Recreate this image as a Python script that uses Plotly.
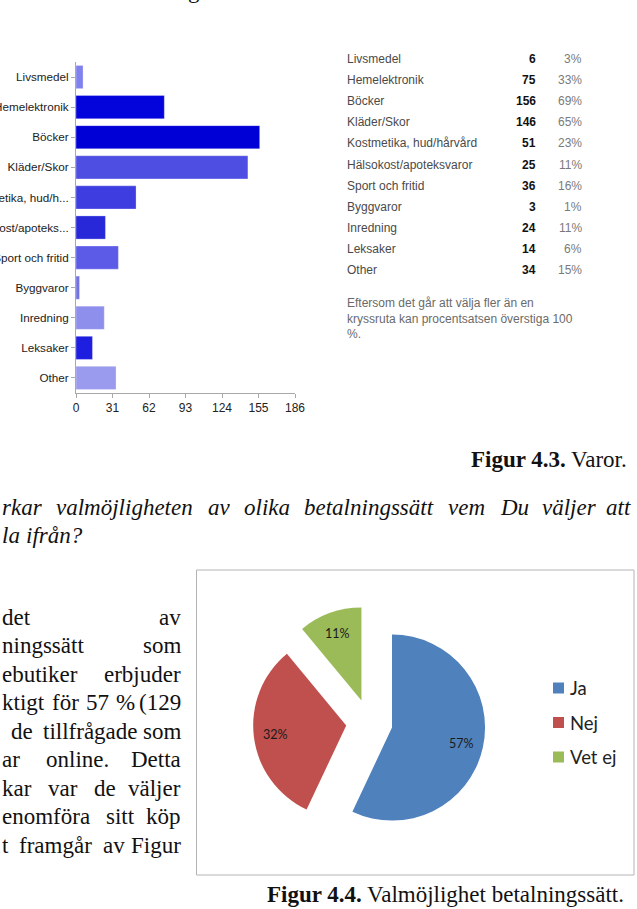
import math
import plotly.graph_objects as go

W, H = 637, 909

# ---------------- data ----------------
bar_labels = ["Livsmedel", "Hemelektronik", "Böcker", "Kläder/Skor", "Kostmetika, hud/h...",
              "Hälsokost/apoteks...", "Sport och fritid", "Byggvaror", "Inredning", "Leksaker", "Other"]
table_labels = ["Livsmedel", "Hemelektronik", "Böcker", "Kläder/Skor", "Kostmetika, hud/hårvård",
                "Hälsokost/apoteksvaror", "Sport och fritid", "Byggvaror", "Inredning", "Leksaker", "Other"]
counts = [6, 75, 156, 146, 51, 25, 36, 3, 24, 14, 34]
percents = ["3%", "33%", "69%", "65%", "23%", "11%", "16%", "1%", "11%", "6%", "15%"]
bar_colors = ["#8080ee", "#0303dc", "#0000d6", "#4e4ee2", "#3d3de0", "#2828d8",
              "#5b5be8", "#7272e2", "#8e8eec", "#1e1ee0", "#9a9aee"]
x_ticks = [0, 31, 62, 93, 124, 155, 186]
note_lines = ["Eftersom det går att välja fler än en",
              "kryssruta kan procentsatsen överstiga 100",
              "%."]

pie_labels = ["Ja", "Nej", "Vet ej"]
pie_values = [57, 32, 11]
pie_colors = ["#4f81bd", "#c0504d", "#9bbb59"]

question_lines = ["rkar valmöjligheten av olika betalningssätt vem Du väljer att", "la ifrån?"]
para_lines = ["det av", "ningssätt som", "ebutiker erbjuder", "ktigt för 57 % (129",
              " de tillfrågade som", "ar online. Detta", "kar var de väljer",
              "enomföra sitt köp", "t framgår av Figur"]


def px(x):
    return x / W


def py(y):
    return 1 - y / H


# Times metrics (per 1000 em) for justification
TR = {' ': 250, 'a': 444, 'b': 500, 'c': 444, 'd': 500, 'e': 444, 'f': 333, 'g': 500, 'h': 500,
      'i': 278, 'j': 278, 'k': 500, 'l': 278, 'm': 778, 'n': 500, 'o': 500, 'p': 500, 'r': 333,
      's': 389, 't': 278, 'u': 500, 'v': 500, 'w': 722, 'å': 444, 'ä': 444, 'ö': 500, 'D': 722,
      'F': 556, '%': 833, '(': 333, ')': 333, '.': 250, ',': 250, '?': 444}
TI = {' ': 250, 'a': 500, 'b': 500, 'c': 444, 'd': 500, 'e': 444, 'f': 278, 'g': 500, 'h': 500,
      'i': 278, 'j': 278, 'k': 444, 'l': 278, 'm': 722, 'n': 500, 'o': 500, 'r': 389, 's': 389,
      't': 278, 'u': 500, 'v': 444, 'å': 500, 'ä': 500, 'ö': 500, 'D': 722, '?': 500}


def tw(s, size, table):
    return sum(table.get(c, 500) for c in s) * size / 1000


annotations = []
shapes = []


def justify(line, left, right, y, size, table, family, italic=False, justify_line=True):
    words = line.split()
    lead = line.startswith(" ")
    widths = [tw(w, size, table) for w in words]
    ngaps = len(words) - 1 + (1 if lead else 0)
    if justify_line and ngaps > 0:
        gap = (right - left - sum(widths)) / ngaps
    else:
        gap = tw(" ", size, table)
    x = left + (gap if lead else 0)
    for i, (w, wd) in enumerate(zip(words, widths)):
        txt = f"<i>{w}</i>" if italic else w
        if justify_line and i == len(words) - 1 and len(words) > 1:
            annotations.append(dict(x=px(right), y=py(y), xref="paper", yref="paper", text=txt,
                                    showarrow=False, xanchor="right", yanchor="middle",
                                    font=dict(family=family, size=size, color="#111")))
        else:
            annotations.append(dict(x=px(x), y=py(y), xref="paper", yref="paper", text=txt,
                                    showarrow=False, xanchor="left", yanchor="middle",
                                    font=dict(family=family, size=size, color="#111")))
        x += wd + gap


fig = go.Figure()

# ---------------- bar chart ----------------
fig.add_trace(go.Bar(
    x=counts, y=bar_labels, orientation="h",
    marker=dict(color=bar_colors, line=dict(width=0.6, color="rgba(255,255,255,0.5)")),
    width=0.77, hoverinfo="skip", showlegend=False,
    xaxis="x", yaxis="y",
))

# ---------------- pie chart ----------------
cx, cy, half = 369.3, 722.5, 116.3
pull = 0.25
r = half / (1 + pull)
fig.add_trace(go.Pie(
    labels=pie_labels, values=pie_values,
    marker=dict(colors=pie_colors, line=dict(width=0)),
    pull=[pull] * len(pie_values), sort=False, direction="clockwise", rotation=0,
    textinfo="none",
    domain=dict(x=[px(cx - half), px(cx + half)], y=[py(cy + half), py(cy - half)]),
    showlegend=False, hoverinfo="skip",
))
# data labels placed along each slice's mid-angle (Excel style)
total = sum(pie_values)
cum = 0
for v in pie_values:
    theta = 2 * math.pi * (cum + v / 2) / total
    cum += v
    d = (pull + 0.77) * r
    annotations.append(dict(x=px(cx + d * math.sin(theta)), y=py(cy - d * math.cos(theta)),
                            xref="paper", yref="paper", text=f"{v}%", showarrow=False,
                            xanchor="center", yanchor="middle",
                            font=dict(family="Lato", size=12.5, color="#1a1a1a")))

# ---------------- table text ----------------
tfont = "Liberation Sans"
for i, (name, c, p) in enumerate(zip(table_labels, counts, percents)):
    yy = 59 + i * 21.1
    annotations.append(dict(x=px(345), y=py(yy), xref="paper", yref="paper", text=name,
                            showarrow=False, xanchor="left", yanchor="middle",
                            font=dict(family=tfont, size=12, color="#4a4a4a")))
    annotations.append(dict(x=px(538), y=py(yy), xref="paper", yref="paper", text=f"<b>{c}</b>",
                            showarrow=False, xanchor="right", yanchor="middle",
                            font=dict(family=tfont, size=12, color="#111")))
    annotations.append(dict(x=px(584), y=py(yy), xref="paper", yref="paper", text=p,
                            showarrow=False, xanchor="right", yanchor="middle",
                            font=dict(family=tfont, size=12, color="#7a7a7a")))
for i, ln in enumerate(note_lines):
    annotations.append(dict(x=px(345), y=py(303 + i * 15.5), xref="paper", yref="paper", text=ln,
                            showarrow=False, xanchor="left", yanchor="middle",
                            font=dict(family=tfont, size=12, color="#6a6a6a")))

# ---------------- captions & body text ----------------
serif = "Liberation Serif"
annotations.append(dict(x=px(629), y=py(459), xref="paper", yref="paper",
                        text="<b>Figur 4.3.</b> Varor.", showarrow=False,
                        xanchor="right", yanchor="middle",
                        font=dict(family=serif, size=23, color="#111")))
annotations.append(dict(x=px(626), y=py(894), xref="paper", yref="paper",
                        text="<b>Figur 4.4.</b> Valmöjlighet betalningssätt.", showarrow=False,
                        xanchor="right", yanchor="middle",
                        font=dict(family=serif, size=23, color="#111")))
annotations.append(dict(x=px(186), y=py(-9), xref="paper", yref="paper", text="g",
                        showarrow=False, xanchor="left", yanchor="middle",
                        font=dict(family=serif, size=23, color="#111")))

justify(question_lines[0], 0, 633, 508, 23, TI, serif, italic=True)
justify(question_lines[1], 0, 633, 535, 23, TI, serif, italic=True, justify_line=False)

for i, ln in enumerate(para_lines):
    justify(ln, 0, 183, 617 + i * 28.5, 23, TR, serif)

# ---------------- pie frame & legend ----------------
shapes.append(dict(type="rect", xref="paper", yref="paper",
                   x0=px(196.5), x1=px(634), y0=py(875), y1=py(570),
                   line=dict(color="#b4b4b4", width=1), fillcolor="rgba(0,0,0,0)", layer="below"))
for i, (lab, col) in enumerate(zip(pie_labels, pie_colors)):
    yc = 688 + i * 34.5
    shapes.append(dict(type="rect", xref="paper", yref="paper",
                       x0=px(553), x1=px(564), y0=py(yc + 5.5), y1=py(yc - 5.5),
                       line=dict(width=0), fillcolor=col))
    annotations.append(dict(x=px(567.5), y=py(yc), xref="paper", yref="paper", text=lab,
                            showarrow=False, xanchor="left", yanchor="middle",
                            font=dict(family="Lato", size=18.5, color="#222")))

axis_col = "#a9a9a9"
fig.update_layout(
    width=W, height=H, margin=dict(l=0, r=0, t=0, b=0),
    paper_bgcolor="white", plot_bgcolor="white",
    xaxis=dict(domain=[px(76), px(295)], range=[0, 186], tickvals=x_ticks,
               showgrid=False, zeroline=False, showline=True, linecolor=axis_col, linewidth=1,
               ticks="outside", ticklen=4, tickcolor=axis_col, anchor="y", automargin=False,
               tickfont=dict(family="Liberation Sans", size=12, color="#222"), fixedrange=True),
    yaxis=dict(domain=[py(393), py(62)], type="category", categoryorder="array",
               categoryarray=bar_labels, range=[10.5, -0.5],
               showgrid=False, zeroline=False, showline=True, linecolor=axis_col, linewidth=1,
               ticks="outside", ticklen=4, tickcolor=axis_col, anchor="x", automargin=False,
               tickfont=dict(family="Liberation Sans", size=11.7, color="#222"), fixedrange=True),
    annotations=annotations, shapes=shapes, showlegend=False,
)

fig.write_html("out.html", config={"displayModeBar": False})
